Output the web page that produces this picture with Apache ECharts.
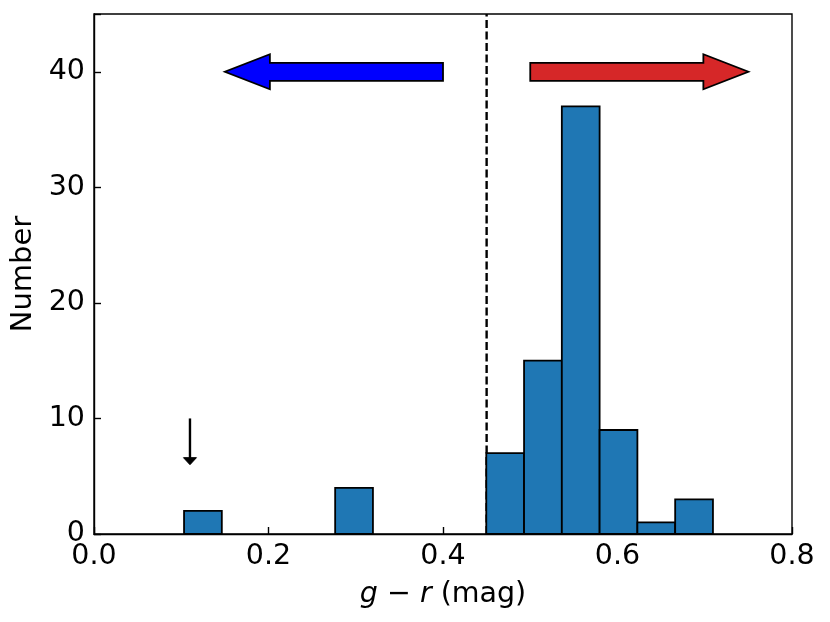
<!DOCTYPE html>
<html>
<head>
<meta charset="utf-8">
<script src="https://cdn.jsdelivr.net/npm/echarts@6/dist/echarts.min.js"></script>
<style>
  html, body { margin: 0; padding: 0; background: #fff; }
  #main { width: 830px; height: 622px; }
</style>
</head>
<body>
<div id="main"></div>
<script>
// histogram bins (g - r colour) and counts
var binEdges = [0.1032, 0.1465, 0.1898, 0.2331, 0.2764, 0.3197, 0.3630, 0.4063,
                0.4496, 0.4929, 0.5362, 0.5795, 0.6228, 0.6661, 0.7094];
var counts = [2, 0, 0, 0, 4, 0, 0, 0, 7, 15, 37, 9, 1, 3];
// dividing colour
var splitColor = 0.45;
// big direction arrows: [tail x, tip x, y]
var blueArrow = [0.40, 0.15, 40];
var redArrow = [0.50, 0.75, 40];
// small marker arrow: [x, y from, y to]
var markArrow = [0.11, 10, 6];
var yTicks = [0, 10, 20, 30, 40];

var chart = echarts.init(document.getElementById('main'), null, {renderer: 'canvas'});

var barData = [];
for (var i = 0; i < counts.length; i++) {
  if (counts[i] > 0) barData.push([binEdges[i], binEdges[i + 1], counts[i]]);
}

var font = 'DejaVu Sans';

function renderBar(params, api) {
  var p0 = api.coord([api.value(0), api.value(2)]);
  var p1 = api.coord([api.value(1), 0]);
  return {
    type: 'rect',
    shape: {x: p0[0], y: p0[1], width: p1[0] - p0[0], height: p1[1] - p0[1]},
    style: {fill: '#1f77b4', stroke: '#000', lineWidth: 1.8}
  };
}

function makeArrowRender(color) {
  return function (params, api) {
    var t = api.coord([api.value(0), api.value(2)]);
    var h = api.coord([api.value(1), api.value(2)]);
    var dir = h[0] > t[0] ? 1 : -1;
    var sw = 9, hw = 17.5, hl = 45;
    var bx = h[0] - dir * hl;
    return {
      type: 'polygon',
      shape: {points: [
        [t[0], t[1] - sw], [bx, t[1] - sw], [bx, t[1] - hw], [h[0], h[1]],
        [bx, t[1] + hw], [bx, t[1] + sw], [t[0], t[1] + sw]
      ]},
      style: {fill: color, stroke: '#000', lineWidth: 1.8}
    };
  };
}

function renderMark(params, api) {
  var a = api.coord([api.value(0), api.value(1)]);
  var b = api.coord([api.value(0), api.value(2)]);
  var hl = 7, hw = 6.5;
  return {
    type: 'group',
    children: [
      {type: 'line', shape: {x1: a[0], y1: a[1], x2: b[0], y2: b[1] - hl + 1},
       style: {stroke: '#000', lineWidth: 2.4}},
      {type: 'polygon', shape: {points: [[b[0] - hw, b[1] - hl], [b[0] + hw, b[1] - hl], [b[0], b[1]]]},
       style: {fill: '#000', stroke: '#000', lineWidth: 1}}
    ]
  };
}

chart.setOption({
  animation: false,
  grid: {left: 94, right: 38, top: 14, bottom: 88, show: true,
         borderColor: '#000', borderWidth: 1.4, backgroundColor: 'transparent'},
  xAxis: {
    type: 'value', min: 0, max: 0.8, interval: 0.2,
    name: '{i|g} − {i|r} (mag)',
    nameLocation: 'middle', nameGap: 46,
    nameTextStyle: {
      fontFamily: font, fontSize: 28.5, color: '#000',
      rich: {i: {fontFamily: font, fontSize: 28.5, fontStyle: 'italic', color: '#000'}}
    },
    axisLine: {show: true, lineStyle: {color: '#000', width: 1.4}},
    axisTick: {show: true, inside: true, length: 7, lineStyle: {color: '#000', width: 1.4}},
    axisLabel: {fontFamily: font, fontSize: 28.5, color: '#000', margin: 8,
                formatter: function (v) { return v.toFixed(1); }},
    splitLine: {show: false}
  },
  yAxis: {
    type: 'value', min: 0, max: 45, interval: 10,
    name: 'Number', nameLocation: 'middle', nameGap: 54, nameRotate: 90,
    nameTextStyle: {fontFamily: font, fontSize: 29, color: '#000'},
    axisLine: {show: true, lineStyle: {color: '#000', width: 1.4}},
    axisTick: {show: true, inside: true, length: 7, lineStyle: {color: '#000', width: 1.4}},
    axisLabel: {fontFamily: font, fontSize: 28.5, color: '#000', margin: 9,
                customValues: yTicks},
    splitLine: {show: false}
  },
  series: [
    {
      type: 'line', data: [[splitColor, 0], [splitColor, 45]],
      symbol: 'none', z: 1,
      lineStyle: {color: '#000', width: 2.4, type: [8, 3.5]}
    },
    {type: 'custom', renderItem: renderBar, data: barData, z: 2},
    {type: 'custom', renderItem: makeArrowRender('#0000ff'), data: [blueArrow], z: 3},
    {type: 'custom', renderItem: makeArrowRender('#d62728'), data: [redArrow], z: 3},
    {type: 'custom', renderItem: renderMark, data: [markArrow], z: 3}
  ]
});
</script>
</body>
</html>
